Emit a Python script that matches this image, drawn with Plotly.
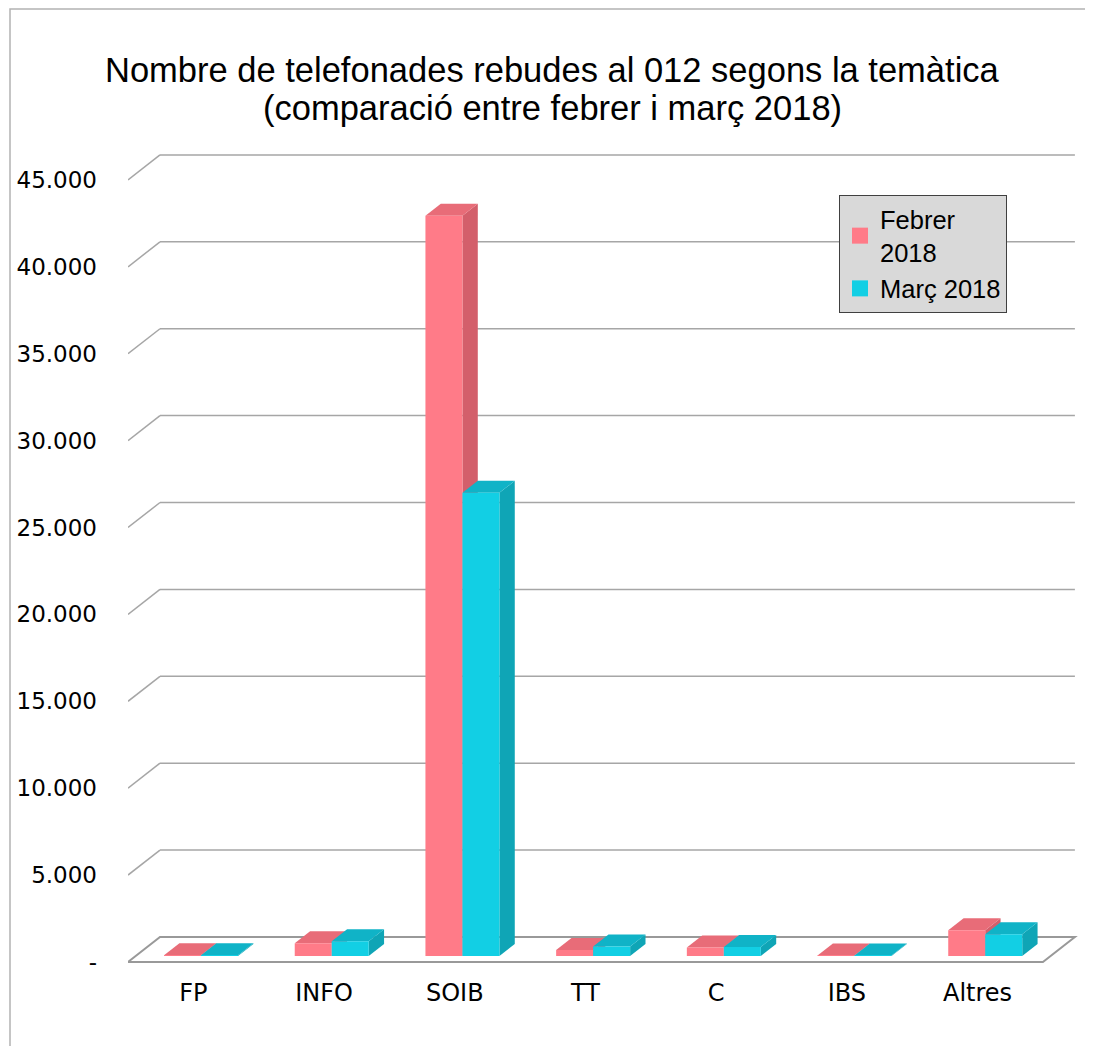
import plotly.graph_objects as go

# ---------------- data ----------------
categories = ["FP", "INFO", "SOIB", "TT", "C", "IBS", "Altres"]
febrer_2018 = [40, 730, 42600, 345, 480, 25, 1475]
marc_2018 = [35, 845, 26650, 540, 515, 20, 1245]
series_names = ["Febrer<br>2018", "Març 2018"]
y_tick_values = [0, 5000, 10000, 15000, 20000, 25000, 30000, 35000, 40000, 45000]
y_tick_labels = ["-", "5.000", "10.000", "15.000", "20.000", "25.000",
                 "30.000", "35.000", "40.000", "45.000"]
title_lines = ["Nombre de telefonades rebudes al 012 segons la temàtica",
               "(comparació entre febrer i març 2018)"]

# ---------------- styling / geometry ----------------
OFF = 8                      # page body margin of the html page
W, H = 1093 - OFF, 1046 - OFF
M_L, M_R, M_T, M_B = 128 - OFF, 16 - OFF, 152 - OFF, 79
PW = W - M_L - M_R
PH = H - M_T - M_B
PX_X = 130.7                # px per category unit
PX_Y = 0.017378             # px per value unit
DEPTH_DX = 32 / PX_X        # floor depth in category units
DEPTH_DY = 25 / PX_Y        # floor depth in value units
F_FRONT, F_BACK = 0.24, 0.72
BAR_W = 0.283
X_MIN = -0.5
X_MAX = X_MIN + PW / PX_X
Y_MIN = -290
Y_MAX = Y_MIN + PH / PX_Y

colors = {
    "front": ["#ff7b88", "#12cfe4"],
    "top": ["#e86c78", "#10b3c7"],
    "side": ["#d35f6b", "#0fa5b6"],
}
grid_color = "#a6a6a6"


def px_to_paper_x(px):
    return (px - OFF - M_L) / PW


def px_to_paper_y(py):
    return ((H - M_B) - (py - OFF)) / PH


fdx, fdy = F_FRONT * DEPTH_DX, F_FRONT * DEPTH_DY
bdx, bdy = F_BACK * DEPTH_DX, F_BACK * DEPTH_DY
ddx, ddy = bdx - fdx, bdy - fdy

fig = go.Figure()
shapes = []

# outer border
shapes.append(dict(type="rect", xref="paper", yref="paper",
                   x0=px_to_paper_x(10), x1=px_to_paper_x(1089),
                   y0=px_to_paper_y(1060), y1=px_to_paper_y(9),
                   line=dict(color="#b3b3b3", width=1.5), fillcolor="rgba(0,0,0,0)",
                   layer="below"))

# back wall grid lines and left wall diagonals
x_front_r = len(categories) - 0.5
for v in y_tick_values[1:]:
    shapes.append(dict(type="line", xref="x", yref="y",
                       x0=X_MIN + DEPTH_DX, x1=x_front_r + DEPTH_DX,
                       y0=v + DEPTH_DY, y1=v + DEPTH_DY,
                       line=dict(color=grid_color, width=1.5), layer="below"))
    shapes.append(dict(type="line", xref="x", yref="y",
                       x0=X_MIN, x1=X_MIN + DEPTH_DX, y0=v, y1=v + DEPTH_DY,
                       line=dict(color=grid_color, width=1.5), layer="below"))

# floor
floor_path = (f"M {X_MIN},0 L {x_front_r},0 L {x_front_r + DEPTH_DX},{DEPTH_DY} "
              f"L {X_MIN + DEPTH_DX},{DEPTH_DY} Z")
shapes.append(dict(type="path", xref="x", yref="y", path=floor_path,
                   fillcolor="white", line=dict(color="#999999", width=2), layer="below"))

# 3D faces (top + side) for each bar, painter order
series_values = [febrer_2018, marc_2018]
for i in range(len(categories)):
    for s, vals in enumerate(series_values):
        v = vals[i]
        c = i + (s - 0.5) * BAR_W
        x0 = c - BAR_W / 2 + fdx
        x1 = c + BAR_W / 2 + fdx
        yt = v + fdy
        top = (f"M {x0},{yt} L {x1},{yt} L {x1 + ddx},{yt + ddy} "
               f"L {x0 + ddx},{yt + ddy} Z")
        side = (f"M {x1},{fdy} L {x1},{yt} L {x1 + ddx},{yt + ddy} "
                f"L {x1 + ddx},{fdy + ddy} Z")
        shapes.append(dict(type="path", xref="x", yref="y", path=side,
                           fillcolor=colors["side"][s], line=dict(width=0), layer="below"))
        shapes.append(dict(type="path", xref="x", yref="y", path=top,
                           fillcolor=colors["top"][s], line=dict(width=0), layer="below"))

# front faces as bars
for s, vals in enumerate(series_values):
    xs = [i + (s - 0.5) * BAR_W + fdx for i in range(len(categories))]
    fig.add_trace(go.Bar(
        x=xs, y=vals, base=[fdy] * len(vals), width=BAR_W,
        name=series_names[s], showlegend=False,
        marker=dict(color=colors["front"][s], line=dict(width=0)),
        hoverinfo="skip",
    ))

# legend entries (square swatches)
for s in range(len(series_values)):
    fig.add_trace(go.Scatter(
        x=[None], y=[None], mode="markers", name=series_names[s],
        marker=dict(symbol="square", size=19, color=colors["front"][s]),
        showlegend=True, hoverinfo="skip",
    ))

annotations = []
for line, py in zip(title_lines, [70, 108]):
    annotations.append(dict(
        text=line, xref="paper", yref="paper",
        x=px_to_paper_x(552), y=px_to_paper_y(py),
        xanchor="center", yanchor="middle", showarrow=False,
        font=dict(family="Liberation Sans", size=34.5, color="black")))

fig.update_layout(
    width=W, height=H,
    margin=dict(l=M_L, r=M_R, t=M_T, b=M_B, autoexpand=False),
    paper_bgcolor="white", plot_bgcolor="rgba(0,0,0,0)",
    barmode="overlay",
    shapes=shapes,
    annotations=annotations,
    showlegend=True,
    legend=dict(
        xref="container", yref="container",
        x=(839 - OFF) / W, y=1 - (195 - OFF) / H, xanchor="left", yanchor="top",
        bgcolor="#d9d9d9", bordercolor="#404040", borderwidth=1,
        font=dict(family="Liberation Sans", size=25.5, color="black"),
        traceorder="normal", itemclick=False, itemdoubleclick=False,
        itemwidth=30, tracegroupgap=0,
    ),
    xaxis=dict(range=[X_MIN, X_MAX], tickvals=list(range(len(categories))),
               ticktext=categories, showgrid=False, zeroline=False, showline=False,
               ticks="", ticklabelstandoff=9,
               tickfont=dict(family="DejaVu Sans", size=24, color="black")),
    yaxis=dict(range=[Y_MIN, Y_MAX], tickvals=y_tick_values, ticktext=y_tick_labels,
               showgrid=False, zeroline=False, showline=False, ticks="",
               ticklabelstandoff=30,
               tickfont=dict(family="DejaVu Sans", size=23, color="black")),
)

fig.write_html("out.html")
